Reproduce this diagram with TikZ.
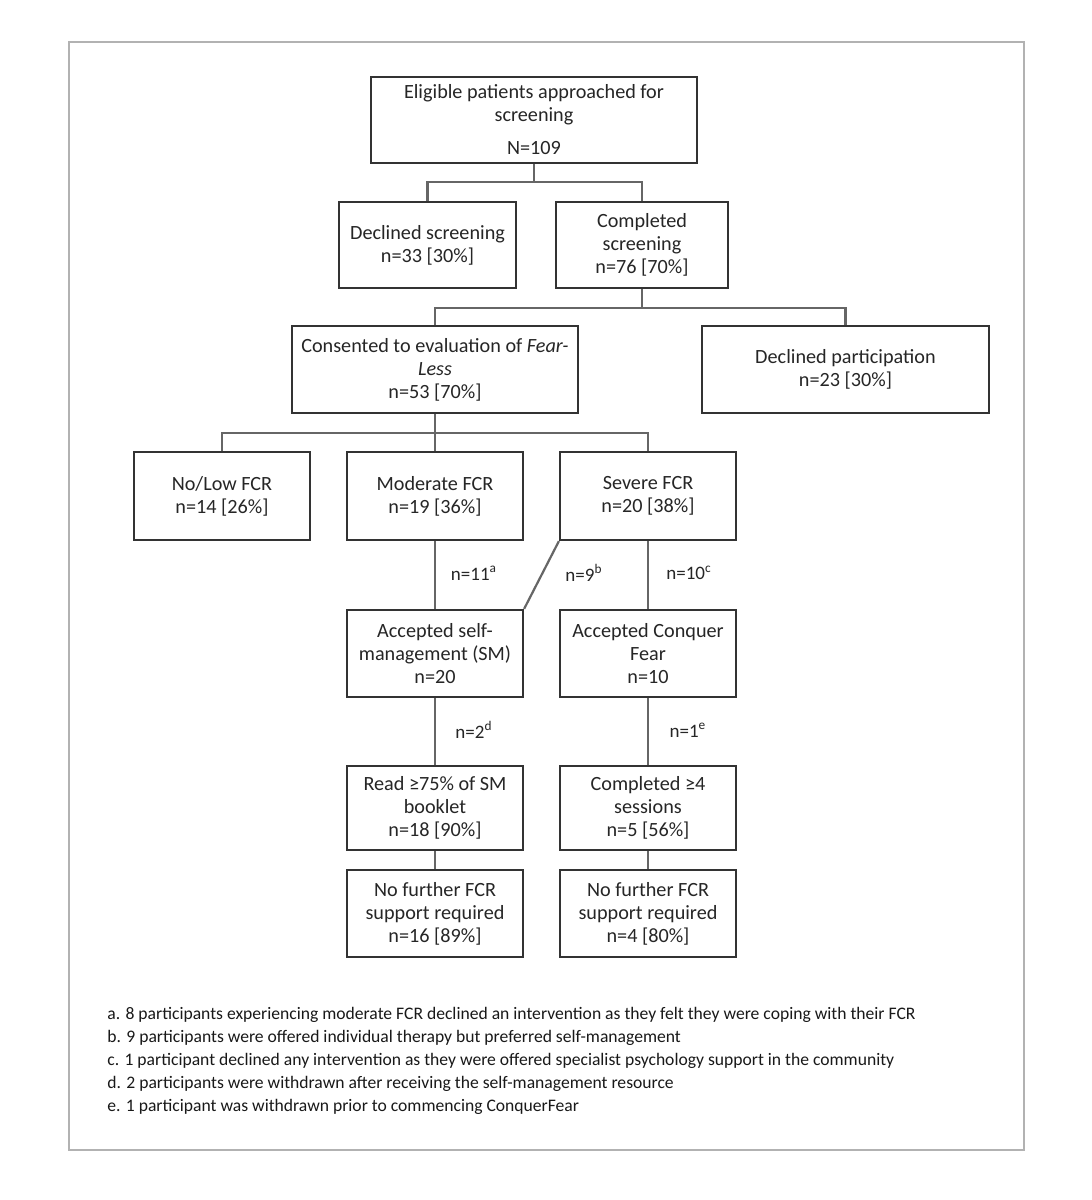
\documentclass[tikz,border=0pt]{standalone}
\usepackage{fontspec}
\setmainfont{Carlito}
\begin{document}
\begin{tikzpicture}[x=0.5pt,y=-0.5pt,
  box/.style={draw=black!80, line width=1.1pt, align=center, inner sep=0pt,
    font=\fontsize{10.1}{11.5}\selectfont, text=black!85},
  link/.style={draw=black!60, line width=1.1pt},
  lbl/.style={font=\fontsize{9.5}{11}\selectfont, text=black!85},
  note/.style={anchor=west, inner sep=0pt, font=\fontsize{8.8}{10}\selectfont, text=black!90}]
\useasboundingbox (0,0) rectangle (1092,1200);
\fill[white] (0,0) rectangle (1092,1200);
\draw[black!30, line width=1.1pt] (69,42) rectangle (1024,1150);

\node[box, minimum width=163pt, minimum height=43pt] (top) at (534,120)
  {Eligible patients approached for\\screening\\[5pt]N=109};
\node[box, minimum width=88.5pt, minimum height=43pt] (decl) at (427.5,245)
  {Declined screening\\n=33 [30\%]};
\node[box, minimum width=86pt, minimum height=43pt] (comp) at (642,245)
  {Completed\\screening\\n=76 [70\%]};
\node[box, minimum width=143pt, minimum height=43.5pt] (cons) at (435,369.5)
  {Consented to evaluation of \textit{Fear-}\\\textit{Less}\\n=53 [70\%]};
\node[box, minimum width=143.5pt, minimum height=43.5pt] (declp) at (845.5,369.5)
  {Declined participation\\n=23 [30\%]};
\node[box, minimum width=88pt, minimum height=44pt] (nolow) at (222,496)
  {No/Low FCR\\n=14 [26\%]};
\node[box, minimum width=88pt, minimum height=44pt] (mod) at (435,496)
  {Moderate FCR\\n=19 [36\%]};
\node[box, minimum width=88pt, minimum height=44pt] (sev) at (648,496)
  {Severe FCR\\n=20 [38\%]};
\node[box, minimum width=88pt, minimum height=43.5pt] (sm) at (435,653.5)
  {Accepted self-\\management (SM)\\n=20};
\node[box, minimum width=88pt, minimum height=43.5pt] (cf) at (648,653.5)
  {Accepted Conquer\\Fear\\n=10};
\node[box, minimum width=88pt, minimum height=42pt] (read) at (435,808)
  {Read ≥75\% of SM\\booklet\\n=18 [90\%]};
\node[box, minimum width=88pt, minimum height=42pt] (cmp4) at (648,808)
  {Completed ≥4\\sessions\\n=5 [56\%]};
\node[box, minimum width=88pt, minimum height=43.5pt] (nf1) at (435,913.5)
  {No further FCR\\support required\\n=16 [89\%]};
\node[box, minimum width=88pt, minimum height=43.5pt] (nf2) at (648,913.5)
  {No further FCR\\support required\\n=4 [80\%]};

\coordinate (j1) at (534,182);
\coordinate (j2) at (642,308);
\coordinate (j3) at (435,433);
\draw[link] (top.south) -- (j1);
\draw[link] (decl.north) |- (j1) -| (comp.north);
\draw[link] (comp.south) -- (j2);
\draw[link] (cons.north) |- (j2) -| (declp.north);
\draw[link] (cons.south) -- (mod.north);
\draw[link] (nolow.north) |- (j3) -| (sev.north);
\draw[link] (mod.south) -- (sm.north);
\draw[link] (sev.south west) -- (sm.north east);
\draw[link] (sev.south) -- (cf.north);
\draw[link] (sm.south) -- (read.north);
\draw[link] (cf.south) -- (cmp4.north);
\draw[link] (read.south) -- (nf1.north);
\draw[link] (cmp4.south) -- (nf2.north);

\node[lbl] (l11) at (474,573) {n=11\textsuperscript{a}};
\node[lbl] (l9) at (584,573) {n=9\textsuperscript{b}};
\node[lbl] (l10) at (689,573) {n=10\textsuperscript{c}};
\node[lbl] (l2) at (474,730) {n=2\textsuperscript{d}};
\node[lbl] (l1) at (688,730) {n=1\textsuperscript{e}};

\node[note] (na) at (107,1015) {a. 8 participants experiencing moderate FCR declined an intervention as they felt they were coping with their FCR};
\node[note] (nb) at (107,1038) {b. 9 participants were offered individual therapy but preferred self-management};
\node[note] (nc) at (107,1061) {c. 1 participant declined any intervention as they were offered specialist psychology support in the community};
\node[note] (nd) at (107,1084) {d. 2 participants were withdrawn after receiving the self-management resource};
\node[note] (ne) at (107,1107) {e. 1 participant was withdrawn prior to commencing ConquerFear};
\end{tikzpicture}
\end{document}
